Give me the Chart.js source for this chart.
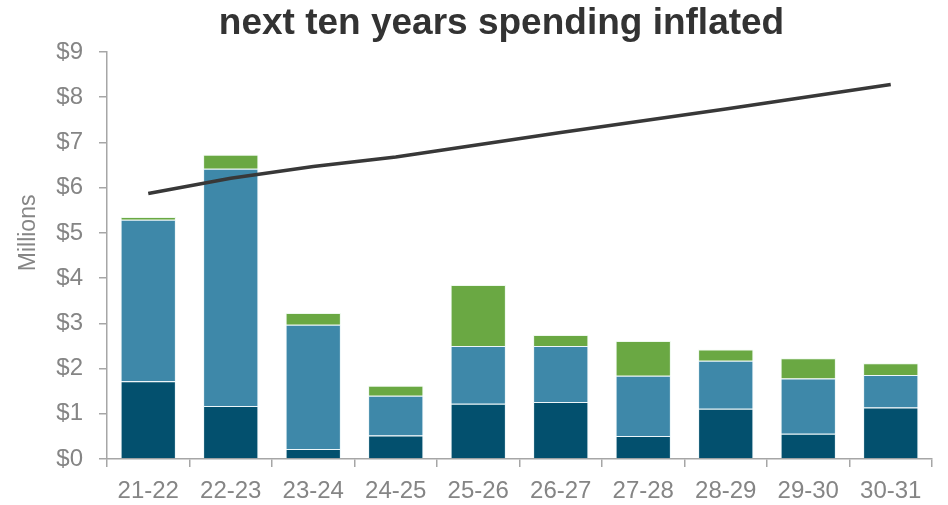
<!DOCTYPE html>
<html>
<head>
<meta charset="utf-8">
<script src="https://cdn.jsdelivr.net/npm/chart.js@4/dist/chart.umd.min.js"></script>
<style>
  html, body { margin: 0; padding: 0; background: #ffffff; }
  #wrap { width: 948px; height: 505px; position: relative; }
</style>
</head>
<body>
<div id="wrap"><canvas id="chart" width="948" height="505"></canvas></div>
<script>
// Fiscal years on the category axis
const years = ['21-22', '22-23', '23-24', '24-25', '25-26', '26-27', '27-28', '28-29', '29-30', '30-31'];

// Stacked spending components ($ millions)
const baseSpend = [1.72, 1.17, 0.22, 0.52, 1.22, 1.26, 0.51, 1.11, 0.56, 1.14];
const midSpend  = [3.57, 5.25, 2.75, 0.88, 1.28, 1.24, 1.33, 1.06, 1.22, 0.72];
const topSpend  = [0.06, 0.31, 0.26, 0.22, 1.35, 0.24, 0.77, 0.25, 0.45, 0.26];

// Inflated funding trend ($ millions)
const trendLine = [5.87, 6.21, 6.47, 6.68, 6.95, 7.22, 7.48, 7.74, 8.01, 8.28];

// Dollar tick labels for the value axis
const dollarTicks = ['$0', '$1', '$2', '$3', '$4', '$5', '$6', '$7', '$8', '$9'];

const chartTitle = 'next ten years spending inflated';
const unitLabel = 'Millions';
const axisGrey = '#a6a6a6';
const textGrey = '#858585';
const fontFamily = '"Liberation Sans", Arial, sans-serif';

// Heading above the plot and the rotated unit label beside the value axis
const headingPlugin = {
  id: 'heading',
  afterDraw(chart) {
    const { ctx, chartArea, scales } = chart;
    ctx.save();
    ctx.font = 'bold 37px ' + fontFamily;
    ctx.fillStyle = '#333333';
    ctx.textAlign = 'center';
    ctx.textBaseline = 'alphabetic';
    ctx.fillText(chartTitle, (chartArea.left + chartArea.right) / 2 - 18, 34);
    ctx.restore();

    // unit label sits level with the $5 tick
    ctx.save();
    ctx.font = '23px ' + fontFamily;
    ctx.fillStyle = textGrey;
    ctx.textAlign = 'center';
    ctx.textBaseline = 'middle';
    ctx.translate(29, scales.y.getPixelForValue(5.0));
    ctx.rotate(-Math.PI / 2);
    ctx.fillText(unitLabel, 0, 0);
    ctx.restore();
  }
};

new Chart(document.getElementById('chart'), {
  data: {
    labels: years,
    datasets: [
      {
        type: 'line',
        label: 'Trend',
        data: trendLine,
        stack: 'trend',
        borderColor: '#383838',
        borderWidth: 3.5,
        pointRadius: 0,
        tension: 0,
        fill: false,
        order: 0
      },
      {
        type: 'bar',
        label: 'Base',
        data: baseSpend,
        stack: 'spend',
        backgroundColor: '#03506e',
        borderColor: 'rgba(225,240,245,0.6)',
        borderWidth: 1,
        order: 1
      },
      {
        type: 'bar',
        label: 'Mid',
        data: midSpend,
        stack: 'spend',
        backgroundColor: '#3e88a9',
        borderColor: 'rgba(225,240,245,0.6)',
        borderWidth: 1,
        order: 1
      },
      {
        type: 'bar',
        label: 'Top',
        data: topSpend,
        stack: 'spend',
        backgroundColor: '#6aa843',
        borderColor: 'rgba(225,245,225,0.6)',
        borderWidth: 1,
        order: 1
      }
    ]
  },
  options: {
    responsive: false,
    animation: false,
    barPercentage: 0.67,
    categoryPercentage: 1.0,
    layout: { padding: { top: 52, right: 16, left: 0, bottom: 0 } },
    plugins: {
      legend: { display: false },
      title: { display: false },
      tooltip: { enabled: false }
    },
    scales: {
      x: {
        stacked: true,
        offset: true,
        afterFit(scale) { scale.height = 46; },
        border: { display: true, color: axisGrey, width: 1.5 },
        grid: {
          offset: true,
          drawOnChartArea: false,
          drawTicks: true,
          tickLength: 8,
          color: axisGrey,
          lineWidth: 1.5
        },
        ticks: {
          color: textGrey,
          padding: 10,
          font: { family: fontFamily, size: 24 }
        }
      },
      y: {
        stacked: true,
        min: 0,
        max: 9,
        afterFit(scale) { scale.width = 107; },
        border: { display: true, color: axisGrey, width: 1.5 },
        grid: {
          drawOnChartArea: false,
          drawTicks: true,
          tickLength: 8,
          color: axisGrey,
          lineWidth: 1.5
        },
        ticks: {
          stepSize: 1,
          color: textGrey,
          padding: 16,
          font: { family: fontFamily, size: 24 },
          callback(value) { return dollarTicks[value]; }
        }
      }
    }
  },
  plugins: [headingPlugin]
});
</script>
</body>
</html>
